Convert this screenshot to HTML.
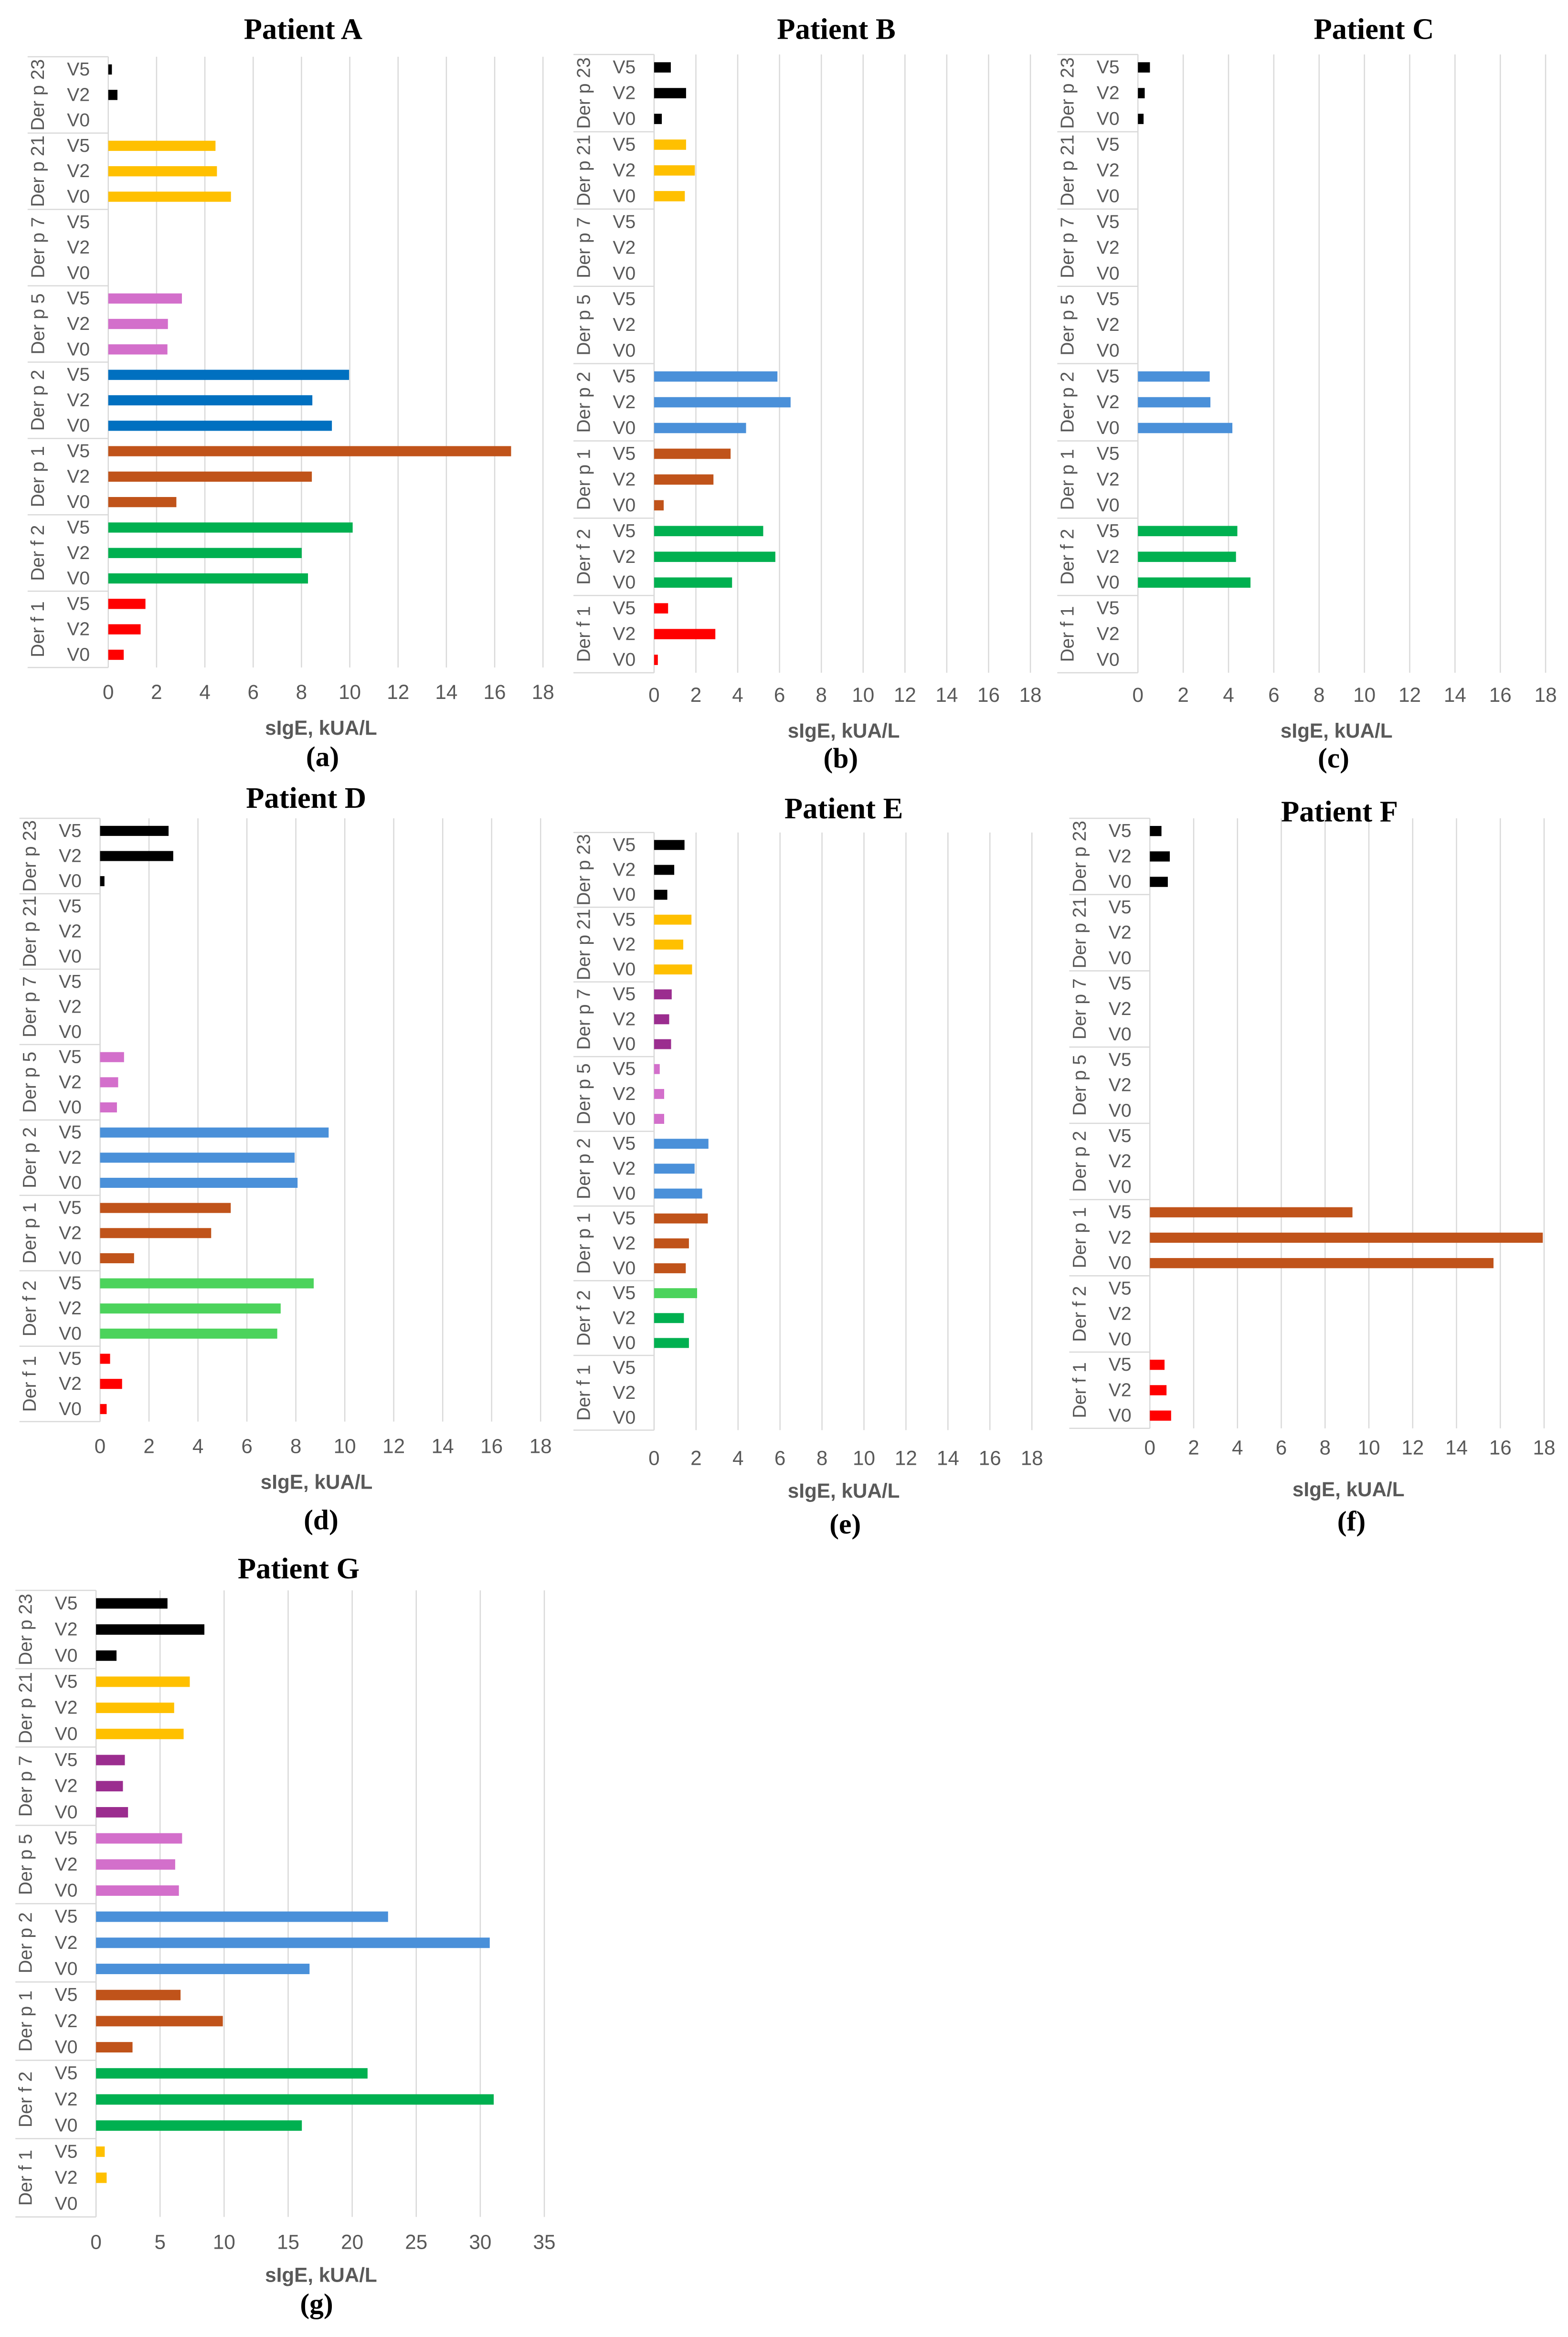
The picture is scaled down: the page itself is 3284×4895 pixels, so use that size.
<!DOCTYPE html>
<html><head><meta charset="utf-8"><style>
html,body{margin:0;padding:0;background:#fff;}
svg{display:block;}
.t{font-family:"Liberation Serif",serif;font-weight:bold;fill:#000;}
.l{font-family:"Liberation Sans",sans-serif;fill:#595959;}
</style></head><body>
<svg id="fig" width="3284" height="4895" viewBox="0 0 1050 1565" preserveAspectRatio="none" xmlns="http://www.w3.org/2000/svg"></svg>
<script>
// Row order per patient: Der p 23, Der p 21, Der p 7, Der p 5, Der p 2, Der p 1, Der f 2, Der f 1 (each V5, V2, V0)
const groups = ["Der p 23","Der p 21","Der p 7","Der p 5","Der p 2","Der p 1","Der f 2","Der f 1"];
const visits = ["V5","V2","V0"];
const ticks18 = [0,2,4,6,8,10,12,14,16,18];
const ticks35 = [0,5,10,15,20,25,30,35];
const valuesA = [0.15,0.38,0, 4.44,4.5,5.08, 0,0,0, 3.05,2.47,2.45, 9.97,8.45,9.26, 16.68,8.43,2.82, 10.12,8.01,8.27, 1.54,1.34,0.64];
const valuesB = [0.8,1.53,0.37, 1.53,1.95,1.47, 0,0,0, 0,0,0, 5.9,6.53,4.4, 3.66,2.84,0.46, 5.22,5.8,3.73, 0.67,2.93,0.18];
const valuesC = [0.53,0.3,0.25, 0,0,0, 0,0,0, 0,0,0, 3.17,3.2,4.17, 0,0,0, 4.39,4.33,4.97, 0,0,0];
const valuesD = [2.8,2.99,0.18, 0,0,0, 0,0,0, 0.98,0.74,0.69, 9.34,7.95,8.07, 5.34,4.54,1.39, 8.73,7.38,7.24, 0.41,0.9,0.27];
const valuesE = [1.45,0.96,0.63, 1.78,1.39,1.81, 0.84,0.72,0.81, 0.27,0.48,0.48, 2.59,1.93,2.29, 2.56,1.66,1.51, 2.05,1.42,1.66, 0,0,0];
const valuesF = [0.53,0.91,0.82, 0,0,0, 0,0,0, 0,0,0, 0,0,0, 9.25,17.94,15.69, 0,0,0, 0.67,0.76,0.97];
const valuesG = [5.58,8.46,1.6, 7.32,6.1,6.84, 2.25,2.1,2.5, 6.72,6.18,6.47, 22.8,30.74,16.67, 6.6,9.9,2.85, 21.2,31.05,16.07, 0.68,0.83,0];

const K="#000000",Y="#FFC000",PU="#9B2D8F",PI="#D36FCB",DB="#0070C0",LB="#4A90D9",BR="#C0531A",GR="#00B050",LG="#4CD35C",R="#FF0000";
const panels = [
 {id:"a",title:"Patient A",vals:valuesA,ticks:ticks18,max:18,x0:72.5,x1:363.6,top:38,bot:447,tickY:468,titleX:203,titleY:26,labX:215,labY:492,capX:216,capY:513,cols:[K,Y,PU,PI,DB,BR,GR,R]},
 {id:"b",title:"Patient B",vals:valuesB,ticks:ticks18,max:18,x0:438,x1:690,top:36.5,bot:450.5,tickY:470,titleX:560,titleY:26,labX:565,labY:494,capX:563,capY:514,cols:[K,Y,PU,PI,LB,BR,GR,R]},
 {id:"c",title:"Patient C",vals:valuesC,ticks:ticks18,max:18,x0:762,x1:1035,top:36.5,bot:450.5,tickY:470,titleX:920,titleY:26,labX:895,labY:494,capX:893,capY:514,cols:[K,Y,PU,PI,LB,BR,GR,R]},
 {id:"d",title:"Patient D",vals:valuesD,ticks:ticks18,max:18,x0:67,x1:362,top:548,bot:952,tickY:973,titleX:205,titleY:541,labX:212,labY:997,capX:215,capY:1024,cols:[K,Y,PU,PI,LB,BR,LG,R]},
 {id:"e",title:"Patient E",vals:valuesE,ticks:ticks18,max:18,x0:438,x1:691,top:557.5,bot:957.7,tickY:981,titleX:565,titleY:548,labX:565,labY:1003,capX:566,capY:1027,cols:[K,Y,PU,PI,LB,BR,GR,R],override:{18:LG}},
 {id:"f",title:"Patient F",vals:valuesF,ticks:ticks18,max:18,x0:770,x1:1034,top:548,bot:956.5,tickY:974,titleX:897,titleY:550,labX:903,labY:1002,capX:905,capY:1025,cols:[K,Y,PU,PI,LB,BR,GR,R]},
 {id:"g",title:"Patient G",vals:valuesG,ticks:ticks35,max:35,x0:64.3,x1:364.5,top:1065,bot:1484.6,tickY:1506,titleX:200,titleY:1057,labX:215,labY:1528,capX:212,capY:1549,cols:[K,Y,PU,PI,LB,BR,GR,Y]}
];
const NS="http://www.w3.org/2000/svg";
const svg=document.getElementById("fig");
function mk(tag,attrs,parent,txt){const e=document.createElementNS(NS,tag);for(const k in attrs)e.setAttribute(k,attrs[k]);if(txt!==undefined)e.textContent=txt;parent.appendChild(e);return e;}

panels.forEach(p=>{
  const g=mk("g",{},svg);
  
  
  const xs=v=>p.x0+(p.x1-p.x0)*v/p.max;
  const rowH=(p.bot-p.top)/24;
  const ys=i=>p.top+rowH*(i+0.5);
  p.ticks.forEach(t=>{
    const ln=mk("line",{x1:xs(t),x2:xs(t),y1:p.top,y2:p.bot,stroke:"#d9d9d9","stroke-width":0.8},g);
    
    
    const tl=mk("text",{x:xs(t),y:p.tickY,"text-anchor":"middle","font-size":13.5,class:"l"},g,String(t));
    
    
  });
  const bl=p.x0-54;
  for(let k=0;k<=8;k++){
    const y=p.top+rowH*3*k;
    const s=mk("line",{x1:bl,x2:p.x0,y1:y,y2:y,stroke:"#d9d9d9","stroke-width":0.8},g);
    
    
  }
  const ax=mk("line",{x1:p.x0,x2:p.x0,y1:p.top,y2:p.bot,stroke:"#d9d9d9","stroke-width":0.8},g);
  
  
  groups.forEach((gn,k)=>{
    const cy=p.top+rowH*(3*k+1.5);
    const gx=p.x0-47;
    const t=mk("text",{x:gx,y:cy,transform:`rotate(-90 ${gx} ${cy})`,"text-anchor":"middle","dominant-baseline":"central","font-size":12.5,class:"l"},g,gn);
    
    
  });
  p.vals.forEach((v,i)=>{
    const rl=mk("text",{x:p.x0-20,y:ys(i),"text-anchor":"middle","dominant-baseline":"central","font-size":12.5,class:"l"},g,visits[i%3]);
    
    
    if(v>0){
      let col=p.cols[Math.floor(i/3)];
      if(p.override&&p.override[i])col=p.override[i];
      const bh=rowH*0.4;
      const b=mk("rect",{x:p.x0,y:ys(i)-bh/2,width:xs(v)-p.x0,height:bh,fill:col},g);
      
      
    }
  });
  const tt=mk("text",{x:p.titleX,y:p.titleY,"text-anchor":"middle","font-size":20,class:"t"},g,p.title);
  
  
  const xl=mk("text",{x:p.labX,y:p.labY,"text-anchor":"middle","font-size":13.5,"font-weight":"bold",class:"l"},g,"sIgE, kUA/L");
  
  
  const cp=mk("text",{x:p.capX,y:p.capY,"text-anchor":"middle","font-size":19,class:"t"},g,"("+p.id+")");
  
  
});
</script>
</body></html>
